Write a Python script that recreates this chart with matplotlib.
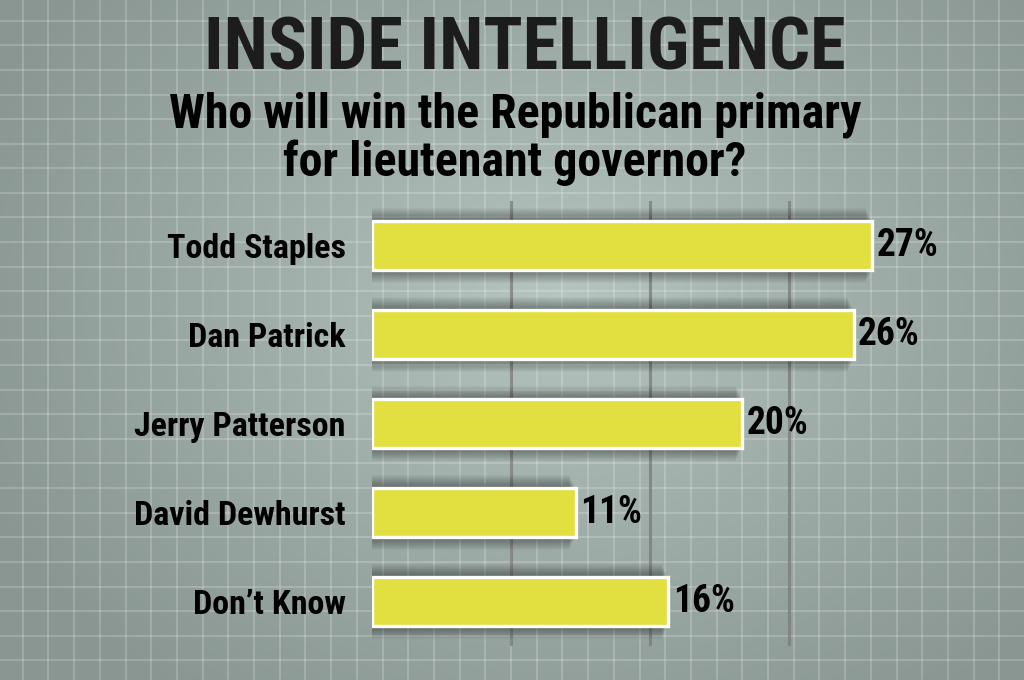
import numpy as np
import matplotlib
matplotlib.use("Agg")
import matplotlib.pyplot as plt

# data
candidates = ["Todd Staples", "Dan Patrick", "Jerry Patterson", "David Dewhurst", "Don\u2019t Know"]
shares = [27, 26, 20, 11, 16]
value_labels = ["27%", "26%", "20%", "11%", "16%"]
grid_ticks = [7.5, 15, 22.5]

title = "INSIDE INTELLIGENCE"
subtitle = "Who will win the Republican primary\nfor lieutenant governor?"

plt.rcParams['font.family'] = ["Roboto Condensed", "DejaVu Sans"]

W, H = 1024, 680
fig = plt.figure(figsize=(W / 100, H / 100), dpi=100)

# background: grid paper with a soft radial light
bg = fig.add_axes([0, 0, 1, 1])
yy, xx = np.mgrid[0:H, 0:W]
r = np.sqrt(((xx - 560) / 640.0) ** 2 + ((yy - 300) / 500.0) ** 2)
shade = np.clip(1 - r, 0, 1) ** 1.1
c_edge = np.array([0x89, 0x96, 0x91]) / 255
c_mid = np.array([0xb6, 0xc5, 0xc0]) / 255
img = c_edge + (c_mid - c_edge) * shade[..., None]
bg.imshow(img, extent=[0, W, H, 0], aspect='auto', interpolation='bilinear')
for gx in np.arange(22.7, W, 25.7):
    bg.axvline(gx, color='white', alpha=0.25, lw=1.1)
for gy in np.arange(20.7, H, 24.6):
    bg.axhline(gy, color='white', alpha=0.25, lw=1.1)
bg.set_xlim(0, W)
bg.set_ylim(H, 0)
bg.axis('off')

fig.text(0.513, 0.926, title, ha='center', va='center', fontsize=52,
         fontweight='bold', color='#1c1c1c')
fig.text(0.503, 0.796, subtitle, ha='center', va='center', fontsize=34.5,
         fontweight='bold', color='black', linespacing=1.03)

# bars
ax = fig.add_axes([372 / W, 1 - 646 / H, 555.6 / W, 445 / H])
ax.patch.set_alpha(0)
ypos = np.arange(len(candidates))
ax.set_xlim(0, 30)
ax.set_ylim(len(candidates) - 0.5, -0.5)

for gx in grid_ticks:
    ax.axvline(gx, color='#7d7d80', lw=2.2, alpha=0.8, zorder=1)

# soft shadow: stacked translucent bars
px_x = 30 / 555.6
px_y = 5 / 445
for k in range(1, 14):
    ax.barh(ypos, np.array(shares) + k * px_x * 0.6, left=-k * px_x * 1.1,
            height=0.54 + 2 * k * px_y, color='black', alpha=0.03,
            lw=0, zorder=2)

bars = ax.barh(ypos, shares, height=0.54, color='#e2df41', edgecolor='white',
               linewidth=2.4, zorder=3)

for b, lab in zip(bars, value_labels):
    ax.text(b.get_width() + 0.25, b.get_y() + b.get_height() / 2, lab,
            ha='left', va='center', fontsize=27, fontweight='bold', color='black', zorder=4)

ax.set_yticks(ypos)
ax.set_yticklabels(candidates, fontsize=24.5, fontweight='bold')
ax.tick_params(axis='y', length=0, pad=19)
ax.set_xticks([])
for s in ax.spines.values():
    s.set_visible(False)

fig.savefig("out.png", dpi=100)
